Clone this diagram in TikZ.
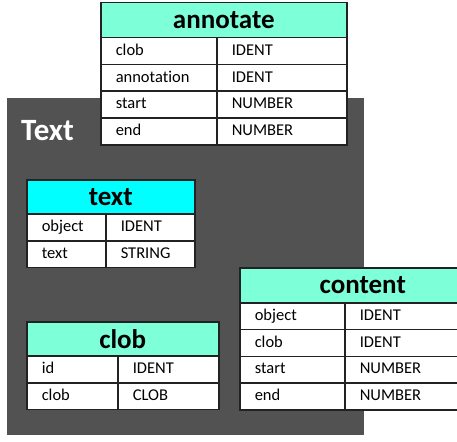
\documentclass[tikz,border=0pt]{standalone}
\usepackage{fontspec}
\setmainfont[Ligatures=NoCommon]{Carlito}
\usepackage{xcolor}
\usetikzlibrary{positioning}

\definecolor{aqua}{HTML}{7DFFD8}
\definecolor{cyanhead}{HTML}{00FFFF}
\definecolor{panel}{HTML}{525252}
\definecolor{rule}{HTML}{222222}

\begin{document}
\begin{tikzpicture}[x=1pt, y=-1pt,
    head/.style={draw=rule, line width=1.5pt, anchor=north west, inner sep=0pt, font=\fontsize{27}{29}\selectfont\bfseries},
    cell/.style={draw=rule, line width=1.5pt, anchor=north west, fill=white, inner sep=0pt, inner xsep=15pt, minimum height=26.75pt, text height=11.5pt, text depth=3pt, align=left, font=\fontsize{16.5}{18}\selectfont}
]
    \useasboundingbox (0,0) rectangle (457,441);
    \clip (0,0) rectangle (457,441);

    % the Text panel
    \fill[panel] (7,98) rectangle (364,435);
    \node[anchor=west, inner sep=0pt, text=white, font=\fontsize{31}{33}\selectfont\bfseries] (paneltitle) at (21,131) {Text};

    % annotate
    \node[head, fill=aqua, minimum width=246pt, minimum height=35pt] (annotate) at (100,2) {annotate};
    \foreach \f/\t [count=\i] in {clob/IDENT, annotation/IDENT, start/NUMBER, end/NUMBER} {
        \node[cell, text width=86pt] (annotate-\i-a) at (100,{37+26.75*(\i-1)}) {\f};
        \node[cell, text width=100pt] (annotate-\i-b) at (216,{37+26.75*(\i-1)}) {\t};
    }

    % text
    \node[head, fill=cyanhead, minimum width=168pt, minimum height=34pt] (text) at (26,179) {text};
    \foreach \f/\t [count=\i] in {object/IDENT, text/STRING} {
        \node[cell, text width=49pt] (text-\i-a) at (26,{213+27*(\i-1)}) {\f};
        \node[cell, text width=59pt] (text-\i-b) at (105,{213+27*(\i-1)}) {\t};
    }

    % clob
    \node[head, fill=aqua, minimum width=192pt, minimum height=34pt] (clob) at (26,321) {clob};
    \foreach \f/\t [count=\i] in {id/IDENT, clob/CLOB} {
        \node[cell, text width=61pt] (clob-\i-a) at (26,{355+27*(\i-1)}) {\f};
        \node[cell, text width=71pt] (clob-\i-b) at (117,{355+27*(\i-1)}) {\t};
    }

    % content
    \node[head, fill=aqua, minimum width=246pt, minimum height=35pt] (content) at (239,267) {content};
    \foreach \f/\t [count=\i] in {object/IDENT, clob/IDENT, start/NUMBER, end/NUMBER} {
        \node[cell, text width=75pt] (content-\i-a) at (239,{302+26.75*(\i-1)}) {\f};
        \node[cell, text width=111pt] (content-\i-b) at (344,{302+26.75*(\i-1)}) {\t};
    }
\end{tikzpicture}
\end{document}
